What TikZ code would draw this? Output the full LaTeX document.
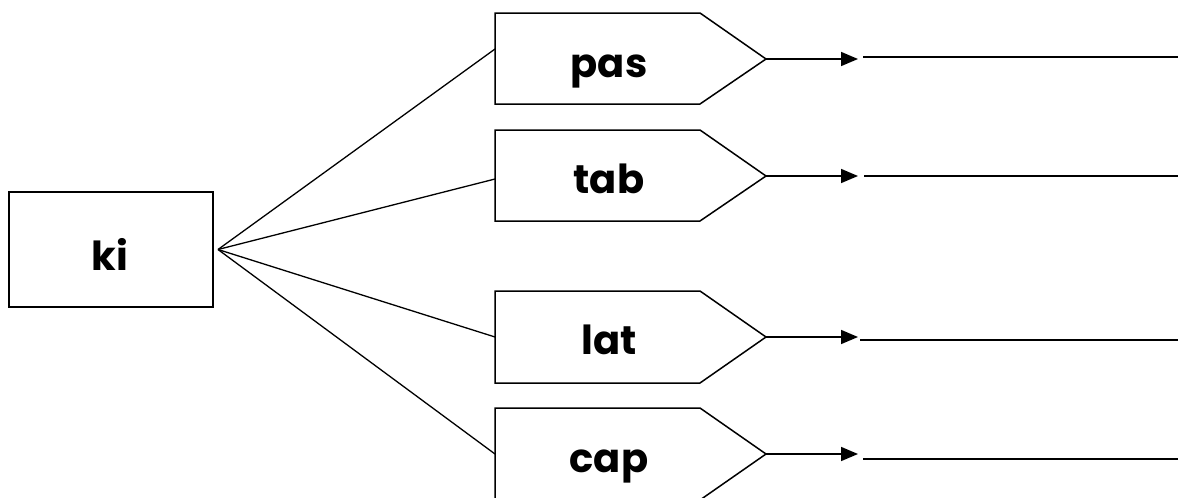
\documentclass[tikz,border=0pt]{standalone}
\usepackage{fontspec}
\setmainfont{Poppins}[UprightFont=* Bold,BoldFont=* ExtraBold]
\usetikzlibrary{arrows.meta}
\tikzset{
  lbl/.style={anchor=base,inner sep=0pt,font=\fontsize{40}{44}\selectfont},
  shapeline/.style={line width=1.5pt,line join=miter},
  fan/.style={line width=1.3pt},
  arr/.style={line width=1.6pt,-{Triangle[length=17pt,width=14pt]}},
  blank/.style={line width=1.4pt}
}
\begin{document}
\begin{tikzpicture}[x=1pt,y=-1pt]
\useasboundingbox (0,0) rectangle (1179,498);
% central box
\node[draw,line width=2pt,minimum width=204pt,minimum height=115pt,inner sep=0pt] (kibox) at (111,249.5) {};
\node[lbl] (ki) at (110,270) {ki};
\coordinate (hub) at ([xshift=4pt]kibox.east);
\foreach \n/\t/\b/\m/\f/\ly/\ls/\ty in {
  pas/13/104/59/49/57/863/77,
  tab/130/221/176/179/176/864/193,
  lat/291/383/337/337/340/860/354,
  cap/408/500/454/454/459/863/472}{
  \coordinate (\n w) at (495,\f);
  \coordinate (\n tip) at (766,\m);
  \coordinate (\n a) at (858,\m);
  \coordinate (\n b) at (\ls,\ly);
  \coordinate (\n c) at (1178,\ly);
  \draw[shapeline] (495,\t) -- (700,\t) -- (\n tip) -- (700,\b) -- (495,\b) -- cycle;
  \node[lbl] (\n) at (609,\ty) {\n};
  \draw[fan] (hub) -- (\n w);
  \draw[arr] (\n tip) -- (\n a);
  \draw[blank] (\n b) -- (\n c);
}
\end{tikzpicture}
\end{document}
